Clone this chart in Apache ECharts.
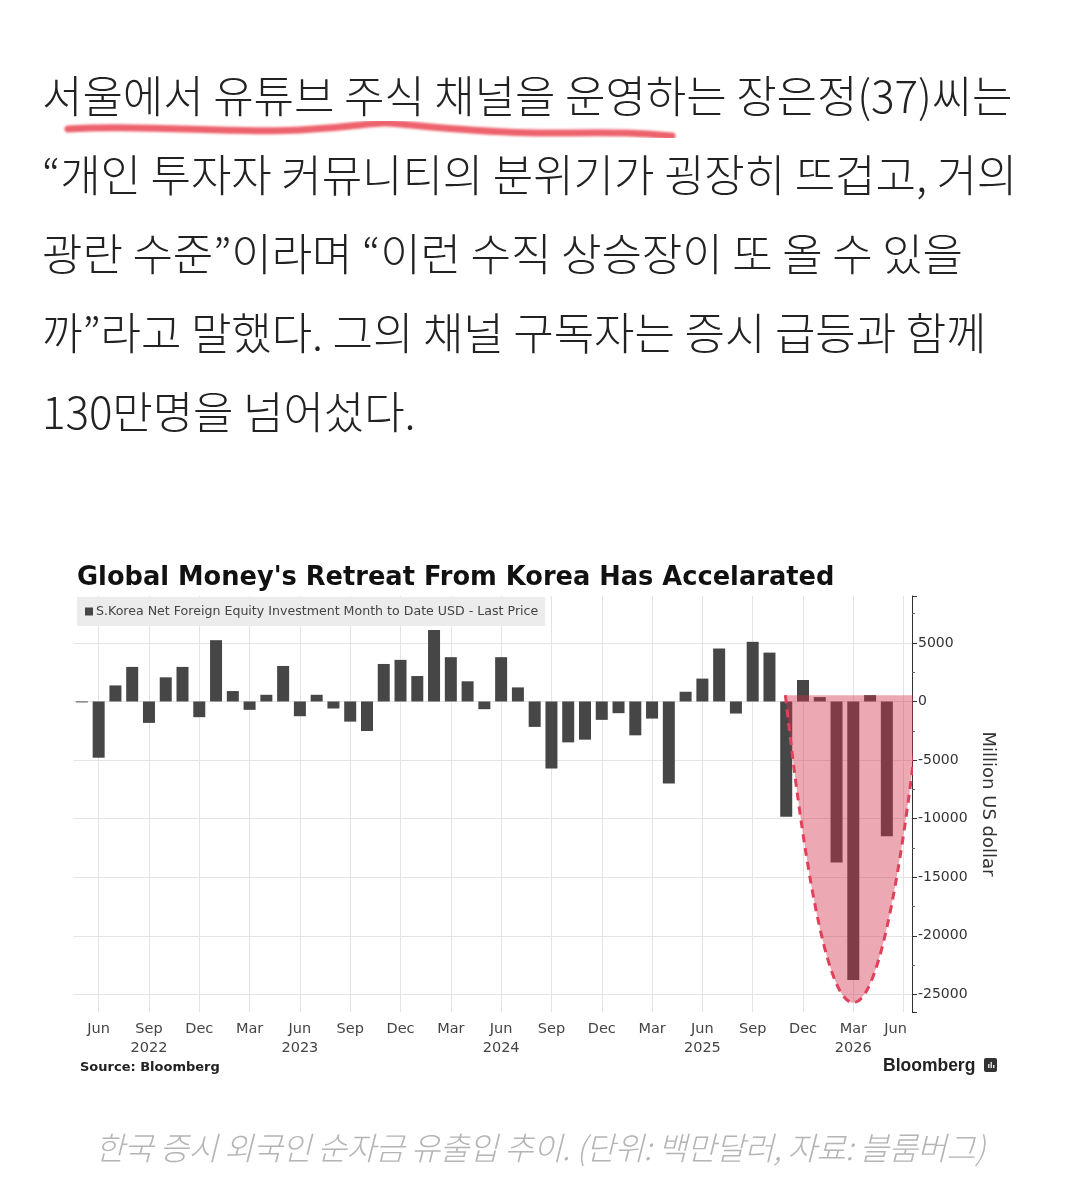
<!DOCTYPE html>
<html>
<head>
<meta charset="utf-8">
<script src="https://cdn.jsdelivr.net/npm/echarts@6/dist/echarts.min.js"></script>
<style>
  html, body { margin: 0; padding: 0; background: #fff; }
  body { width: 1080px; height: 1192px; position: relative; overflow: hidden; }
  #chart { position: absolute; left: 0; top: 0; width: 1080px; height: 1192px; }
  .article { position: absolute; left: 42px; top: 55px; font-family: "Noto Sans CJK KR", sans-serif;
    font-weight: 300; font-size: 44px; line-height: 79px; color: #222; white-space: nowrap; letter-spacing: -0.1px; z-index: 2; }
  .caption { position: absolute; left: 0; width: 1080px; top: 1123px; text-align: center;
    font-family: "Noto Sans CJK KR", sans-serif; font-weight: 300; font-style: italic; font-size: 32px; color: #b5b5b5;
    letter-spacing: -0.5px; z-index: 2; }
  svg.scribble { position: absolute; left: 0; top: 0; z-index: 1; }
</style>
</head>
<body>
<div id="chart"></div>
<svg class="scribble" width="1080" height="200">
  <defs><filter id="soft"><feGaussianBlur stdDeviation="0.8"/></filter></defs>
  <path d="M68,129 C150,124 230,134 300,130 S 370,121 400,124 S 500,134 560,133 S 640,133 672,136"
        fill="none" stroke="rgba(232,60,72,0.8)" stroke-width="7" stroke-linecap="round" filter="url(#soft)"/>
</svg>
<div class="article">서울에서 유튜브 주식 채널을 운영하는 장은정(37)씨는<br>“개인 투자자 커뮤니티의 분위기가 굉장히 뜨겁고, 거의<br>광란 수준”이라며 “이런 수직 상승장이 또 올 수 있을<br>까”라고 말했다. 그의 채널 구독자는 증시 급등과 함께<br>130만명을 넘어섰다.</div>
<div class="caption">한국 증시 외국인 순자금 유출입 추이. (단위: 백만달러, 자료: 블룸버그)</div>
<script>
// ---- data ----
const months = [
  'May 2022','Jun 2022','Jul 2022','Aug 2022','Sep 2022','Oct 2022','Nov 2022','Dec 2022',
  'Jan 2023','Feb 2023','Mar 2023','Apr 2023','May 2023','Jun 2023','Jul 2023','Aug 2023','Sep 2023','Oct 2023','Nov 2023','Dec 2023',
  'Jan 2024','Feb 2024','Mar 2024','Apr 2024','May 2024','Jun 2024','Jul 2024','Aug 2024','Sep 2024','Oct 2024','Nov 2024','Dec 2024',
  'Jan 2025','Feb 2025','Mar 2025','Apr 2025','May 2025','Jun 2025','Jul 2025','Aug 2025','Sep 2025','Oct 2025','Nov 2025','Dec 2025',
  'Jan 2026','Feb 2026','Mar 2026','Apr 2026','May 2026','Jun 2026'
];
const netForeign = [
  -80, -4800, 1370, 2950, -1830, 2060, 2950, -1340,
  5230, 890, -715, 570, 3030, -1260, 570, -600, -1720, -2520, 3200, 3550,
  2170, 6090, 3780, 1720, -660, 3780, 1200, -2170, -5720, -3490, -3260, -1570,
  -1000, -2890, -1460, -7010, 830, 1950, 4520, -1030, 5090, 4170, -9840, 1830,
  370, -13750, -23760, 540, -11500, null
];
const yTickValues = [5000, 0, -5000, -10000, -15000, -20000, -25000];
const labelMonths = ['Mar', 'Jun', 'Sep', 'Dec'];
const yearLabelAt = ['Sep 2022', 'Jun 2023', 'Jun 2024', 'Jun 2025', 'Mar 2026'];
// highlighted region (value units / month units)
const highlightCenter = 'Mar 2026';
const highlightHalfWidth = 4.05;
const highlightTop = 540;
const highlightBottom = -25700;

const seriesName = 'S.Korea Net Foreign Equity Investment Month to Date USD - Last Price';
const chart = echarts.init(document.getElementById('chart'), null, { renderer: 'canvas' });
const font = 'DejaVu Sans';
const lastMonth = months[months.length - 1];

const option = {
  backgroundColor: 'transparent',
  animation: false,
  title: {
    text: "Global Money's Retreat From Korea Has Accelarated",
    left: 77, top: 565, padding: 0,
    textStyle: { fontFamily: font, fontWeight: 'bold', fontSize: 25.7, color: '#111' }
  },
  legend: {
    left: 77, top: 597,
    data: [seriesName],
    icon: 'rect', itemWidth: 8, itemHeight: 8, itemGap: 4,
    backgroundColor: '#ececec',
    padding: [8, 7, 8, 8],
    textStyle: { fontFamily: font, fontSize: 12.6, color: '#444', padding: [0, 0, 0, -2] },
    selectedMode: false
  },
  grid: { left: 73.5, right: 168, top: 596, bottom: 180, containLabel: false },
  xAxis: {
    type: 'category',
    data: months,
    boundaryGap: true,
    axisLine: { show: false },
    axisTick: { show: false },
    splitLine: { show: false },
    axisLabel: {
      interval: (i, v) => labelMonths.indexOf(v.split(' ')[0]) >= 0,
      formatter: (v) => {
        const m = v.split(' ')[0];
        if (v === lastMonth) return '{e|' + m + '}';
        return yearLabelAt.indexOf(v) >= 0 ? m + '\n' + v.split(' ')[1] : m;
      },
      rich: { e: { fontFamily: font, fontSize: 14.5, color: '#444', padding: [0, 16, 0, 0] } },
      fontFamily: font, fontSize: 14.5, color: '#444', lineHeight: 19, margin: 8
    }
  },
  yAxis: {
    type: 'value',
    position: 'right',
    min: -26500, max: 9000,
    splitNumber: 7,
    name: 'Million US dollar',
    nameLocation: 'middle',
    nameRotate: -90,
    nameGap: 67,
    nameTextStyle: { fontFamily: font, fontSize: 18, color: '#333' },
    axisLine: { show: true, lineStyle: { color: '#333', width: 1 } },
    axisTick: { show: true, inside: false, length: 5, lineStyle: { color: '#333' } },
    minorTick: { show: true, splitNumber: 2, length: 3, lineStyle: { color: '#666' } },
    splitLine: { show: true, showMinLine: false, showMaxLine: false, lineStyle: { color: '#e4e4e4', width: 1 } },
    axisLabel: {
      showMinLabel: false, showMaxLabel: false,
      formatter: (v) => yTickValues.indexOf(v) >= 0 ? String(v) : '',
      fontFamily: font, fontSize: 14, color: '#333', margin: 6
    }
  },
  series: [
    {
      name: seriesName,
      type: 'bar',
      data: netForeign,
      barWidth: 12,
      itemStyle: { color: '#464646' },
      z: 2,
      markLine: {
        z: 1,
        silent: true,
        symbol: 'none',
        label: { show: false },
        lineStyle: { color: '#e3e3e3', type: 'solid', width: 1 },
        data: months.filter(v => labelMonths.indexOf(v.split(' ')[0]) >= 0).map(v => ({ xAxis: v }))
      }
    },
    {
      name: 'highlight',
      type: 'custom',
      clip: true,
      silent: true,
      z: 5,
      data: [[highlightCenter, 0]],
      renderItem: (params, api) => {
        const cx = api.coord([highlightCenter, 0])[0];
        const band = api.size([1, 0])[0];
        const yTop = api.coord([highlightCenter, highlightTop])[1];
        const yBot = api.coord([highlightCenter, highlightBottom])[1];
        const xl = cx - highlightHalfWidth * band;
        const xr = cx + highlightHalfWidth * band;
        const yCtrl = 2 * yBot - yTop;
        const curve = 'M' + xl + ' ' + yTop + ' Q' + cx + ' ' + yCtrl + ' ' + xr + ' ' + yTop;
        return {
          type: 'group',
          children: [
            { type: 'path', shape: { pathData: curve + ' Z' }, style: { fill: 'rgba(213,50,75,0.42)', stroke: null } },
            { type: 'path', shape: { pathData: curve }, style: { fill: null, stroke: '#e0405a', lineWidth: 3, lineDash: [8, 6] } }
          ]
        };
      }
    }
  ],
  graphic: [
    { type: 'text', left: 80, top: 1061, style: { text: 'Source: Bloomberg', fontFamily: font, fontWeight: 'bold', fontSize: 13, fill: '#222' } },
    { type: 'text', left: 883, top: 1057, style: { text: 'Bloomberg', fontFamily: 'Liberation Sans', fontWeight: 'bold', fontSize: 17.5, fill: '#222' } },
    { type: 'rect', left: 984, top: 1058, shape: { width: 13, height: 14, r: 2 }, style: { fill: '#333' } },
    { type: 'rect', left: 988, top: 1064, shape: { width: 1.5, height: 4 }, style: { fill: '#ddd' } },
    { type: 'rect', left: 990.5, top: 1062, shape: { width: 1.5, height: 6 }, style: { fill: '#ddd' } },
    { type: 'rect', left: 993, top: 1065, shape: { width: 1.5, height: 3 }, style: { fill: '#ddd' } }
  ]
};
chart.setOption(option);
</script>
</body>
</html>
